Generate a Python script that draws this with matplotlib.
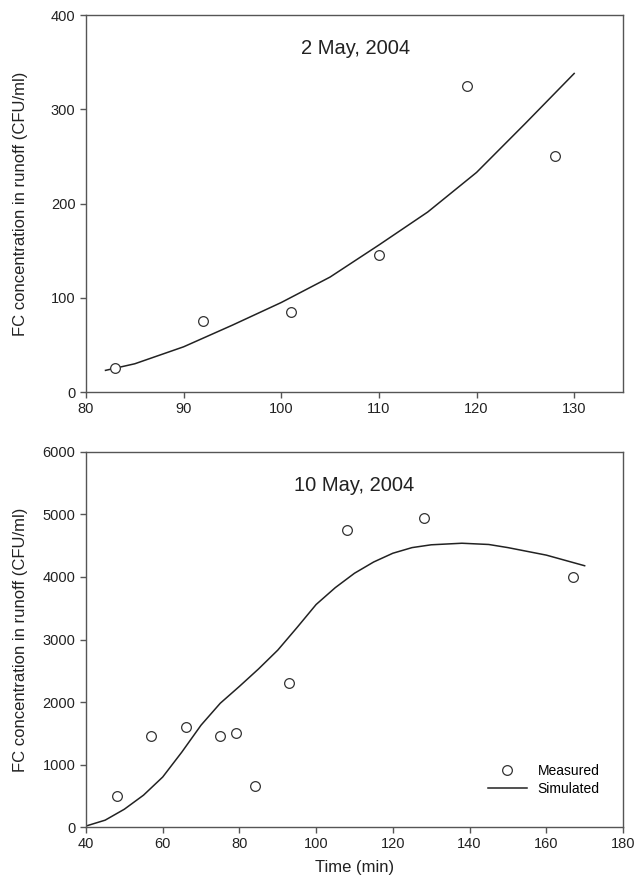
import matplotlib.pyplot as plt

plt.rcParams['font.family'] = ['Liberation Sans', 'DejaVu Sans']

# 2 May, 2004
may2_meas_t = [83, 92, 101, 110, 119, 128]
may2_meas_fc = [25, 75, 85, 145, 325, 250]
may2_sim_t = [82, 85, 90, 95, 100, 105, 110, 115, 120, 125, 130]
may2_sim_fc = [23, 30, 48, 71, 95, 122, 156, 191, 233, 285, 338]

# 10 May, 2004
may10_meas_t = [48, 57, 66, 75, 79, 84, 93, 108, 128, 167]
may10_meas_fc = [500, 1450, 1600, 1450, 1500, 650, 2300, 4750, 4950, 4000]
may10_sim_t = [40, 45, 50, 55, 60, 65, 70, 75, 80, 85, 90, 95, 100, 105, 110,
               115, 120, 125, 130, 138, 145, 150, 160, 170]
may10_sim_fc = [16, 110, 285, 510, 800, 1200, 1630, 1980, 2250, 2530, 2830,
                3190, 3560, 3830, 4060, 4240, 4380, 4470, 4515, 4540, 4520,
                4470, 4350, 4180]

ylabel = 'FC concentration in runoff (CFU/ml)'
spine_col = '#555555'
mark_col = '#333333'

fig = plt.figure(figsize=(6.35, 8.89), dpi=100)
ax1 = fig.add_axes([0.1354, 0.559, 0.8457, 0.4241])
ax2 = fig.add_axes([0.1354, 0.0697, 0.8457, 0.4219])


def style(ax):
    for s in ax.spines.values():
        s.set_color(spine_col)
        s.set_linewidth(1.0)
    ax.tick_params(direction='out', length=4, width=1.0, color=spine_col,
                   labelsize=10.5, labelcolor='#222222', top=False, right=False)
    ax.set_ylabel(ylabel, fontsize=12, color='#222222')
    ax.yaxis.set_label_coords(-0.108, 0.5)


ax1.plot(may2_sim_t, may2_sim_fc, color='#222222', lw=1.1)
ax1.plot(may2_meas_t, may2_meas_fc, 'o', mfc='white', mec=mark_col, ms=7, mew=0.9)
ax1.set_xlim(80, 135)
ax1.set_ylim(0, 400)
ax1.set_xticks([80, 90, 100, 110, 120, 130])
ax1.set_yticks([0, 100, 200, 300, 400])
ax1.text(107.6, 364, '2 May, 2004', fontsize=14.5, ha='center', va='center',
         color='#222222')
style(ax1)

ax2.plot(may10_sim_t, may10_sim_fc, color='#222222', lw=1.1, label='Simulated')
ax2.plot(may10_meas_t, may10_meas_fc, 'o', mfc='white', mec=mark_col, ms=7,
         mew=0.9, label='Measured')
ax2.set_xlim(40, 180)
ax2.set_ylim(0, 6000)
ax2.set_xticks(range(40, 181, 20))
ax2.set_yticks(range(0, 6001, 1000))
ax2.text(110, 5470, '10 May, 2004', fontsize=14.5, ha='center', va='center',
         color='#222222')
ax2.set_xlabel('Time (min)', fontsize=12, color='#222222', labelpad=6)
style(ax2)

h, l = ax2.get_legend_handles_labels()
ax2.legend(h[::-1], l[::-1], loc='lower right', bbox_to_anchor=(0.98, 0.05),
           frameon=False, fontsize=10, handlelength=2.8, handletextpad=0.8,
           labelspacing=0.3)

fig.savefig('out.png', dpi=100)
